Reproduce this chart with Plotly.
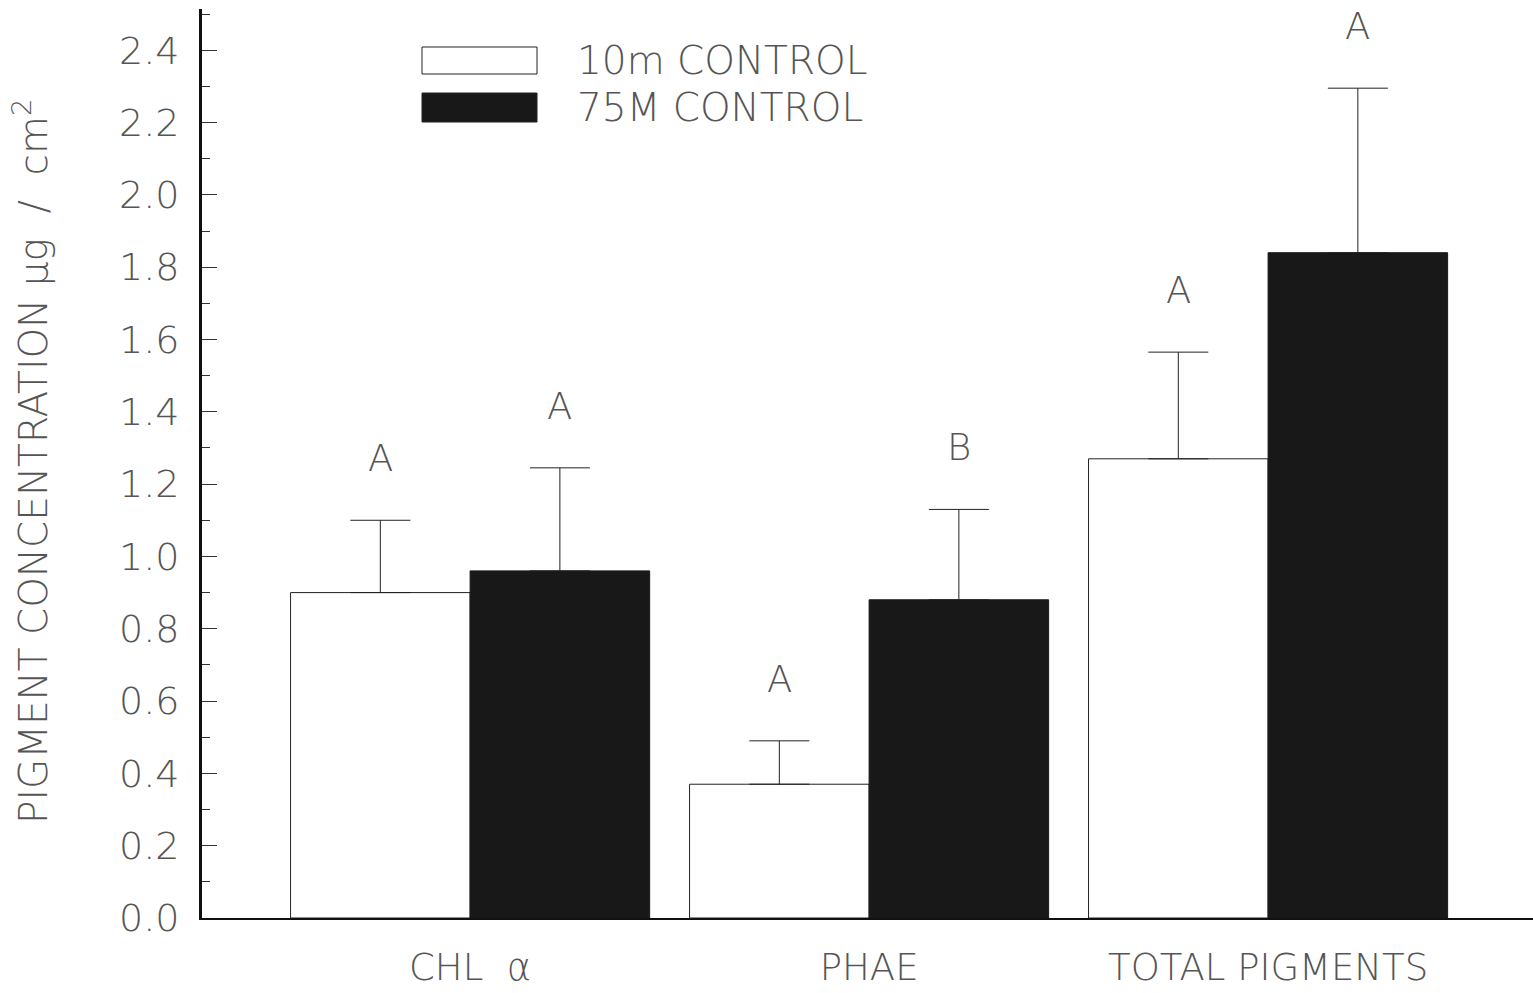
import plotly.graph_objects as go

# ---- data ----
categories = ["CHL  α", "PHAE", "TOTAL PIGMENTS"]
series_names = ["10m CONTROL", "75M CONTROL"]
ctrl10 = [0.90, 0.37, 1.27]
ctrl10_err = [0.20, 0.12, 0.295]
ctrl75 = [0.96, 0.88, 1.84]
ctrl75_err = [0.285, 0.25, 0.455]
letters10 = ["A", "A", "A"]
letters75 = ["A", "B", "A"]
y_ticks = [0.0, 0.2, 0.4, 0.6, 0.8, 1.0, 1.2, 1.4, 1.6, 1.8, 2.0, 2.2, 2.4]

W, H = 1533, 993
ML, MR, MT, MB = 202, 0, 9, 75
PW, PH = W - ML - MR, H - MT - MB

def px_x(px):
    return (px - ML) / PW

def px_y(py):
    return (H - MB - py) / PH

FONT = "DejaVu Sans"
TXT = "#555555"
BLACK = "#181818"

def tfont(size):
    return dict(family=FONT, size=size, color=TXT, weight=200)

fig = go.Figure()
fig.add_trace(go.Bar(
    x=categories, y=ctrl10, name=series_names[0],
    marker=dict(color="white", line=dict(color="#222", width=1)),
    error_y=dict(type="data", array=ctrl10_err, arrayminus=[0] * len(ctrl10),
                 symmetric=False, color="#222", thickness=1, width=30),
    showlegend=False,
))
fig.add_trace(go.Bar(
    x=categories, y=ctrl75, name=series_names[1],
    marker=dict(color=BLACK, line=dict(color=BLACK, width=1)),
    error_y=dict(type="data", array=ctrl75_err, arrayminus=[0] * len(ctrl75),
                 symmetric=False, color="#222", thickness=1, width=30),
    showlegend=False,
))

bargap = 0.1
half = (1 - bargap) / 4  # offset of each bar centre from the category centre
for i in range(len(categories)):
    for vals, errs, lets, off in ((ctrl10, ctrl10_err, letters10, -half),
                                  (ctrl75, ctrl75_err, letters75, half)):
        fig.add_annotation(
            x=i + off, y=vals[i] + errs[i], xref="x", yref="y",
            text=lets[i], showarrow=False, yanchor="bottom", yshift=38,
            font=tfont(37),
        )

# legend drawn manually
legend_rows = [(47, 74, "white"), (93, 122, BLACK)]
for (t, b, col), name in zip(legend_rows, series_names):
    fig.add_shape(type="rect", xref="paper", yref="paper",
                  x0=px_x(422), x1=px_x(537), y0=px_y(b), y1=px_y(t),
                  fillcolor=col, line=dict(color="#222", width=1))
    fig.add_annotation(x=px_x(575), y=px_y((t + b) / 2), xref="paper", yref="paper",
                       text=name, showarrow=False, xanchor="left", yanchor="middle",
                       font=tfont(39))

# y-axis title
fig.add_annotation(x=px_x(31), y=px_y(462), xref="paper", yref="paper",
                   text="PIGMENT CONCENTRATION μg  /  cm<sup>2</sup>",
                   textangle=-90, showarrow=False, xanchor="center", yanchor="middle",
                   font=tfont(39))

fig.update_layout(
    width=W, height=H,
    margin=dict(l=ML, r=MR, t=MT, b=MB),
    paper_bgcolor="white", plot_bgcolor="white",
    barmode="group", bargap=bargap, bargroupgap=0,
    xaxis=dict(
        type="category", range=[-0.672, 2.664],
        showline=True, linecolor="#111", linewidth=2,
        showgrid=False, ticks="", zeroline=False,
        ticklabelstandoff=16,
        tickfont=tfont(37),
    ),
    yaxis=dict(
        range=[0, 2.514],
        tickvals=y_ticks, ticktext=[f"{v:.1f}" for v in y_ticks],
        showline=True, linecolor="#111", linewidth=3,
        ticks="inside", ticklen=15, tickwidth=1, tickcolor="#333",
        minor=dict(ticks="inside", ticklen=8, dtick=0.1, tick0=0, tickwidth=1,
                   tickcolor="#333", showgrid=False),
        showgrid=False, zeroline=False,
        ticklabelstandoff=12,
        tickfont=tfont(38),
    ),
)

fig.write_html("out.html")
